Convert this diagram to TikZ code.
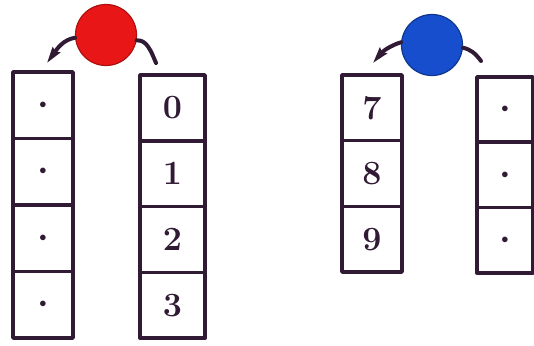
\documentclass[tikz,border=0pt]{standalone}
\usepackage{tikz}
\usetikzlibrary{arrows.meta,positioning}

\definecolor{ink}{RGB}{48,26,52}
\definecolor{ballred}{RGB}{232,22,22}
\definecolor{ballblue}{RGB}{22,78,205}

\begin{document}
\begin{tikzpicture}[
    x=1pt, y=-1pt, line join=round,
    cell/.style ={draw=ink, line width=3.6pt, outer sep=0pt, inner sep=0pt,
                  font=\fontsize{34}{34}\selectfont\bfseries, text=ink},
    cola/.style ={cell, minimum width=60pt, minimum height=66.5pt},
    colb/.style ={cell, minimum width=65pt, minimum height=65.8pt},
    colc/.style ={cell, minimum width=60pt, minimum height=65.7pt},
    cold/.style ={cell, minimum width=56pt, minimum height=65.3pt},
    ball/.style ={circle, minimum size=61pt, inner sep=0pt, line width=1.2pt},
    arm/.style  ={draw=ink, line width=4pt, line cap=round},
    hand/.style ={-{Stealth[length=16pt, width=9pt, inset=2pt]}},
  ]
  \useasboundingbox (0,0) rectangle (534,345);

  % --- left pair ---
  \node[cola] (a1) at (43,105.25) {\fontsize{15}{15}\selectfont$\bullet$};
  \node[cola, below=0pt of a1] (a2) {\fontsize{15}{15}\selectfont$\bullet$};
  \node[cola, below=0pt of a2] (a3) {\fontsize{15}{15}\selectfont$\bullet$};
  \node[cola, below=0pt of a3] (a4) {\fontsize{15}{15}\selectfont$\bullet$};
  \node[colb] (b0) at (172.5,107.9) {0};
  \node[colb, below=0pt of b0] (b1) {1};
  \node[colb, below=0pt of b1] (b2) {2};
  \node[colb, below=0pt of b2] (b3) {3};

  \node[ball, fill=ballred, draw=ballred!75!black] (red) at (106,35) {};
  \coordinate (redL) at (47,63);
  \coordinate (redR) at (156,63);
  \draw[arm, hand] (red.185) .. controls +(-12,2) and +(10,-14) .. (redL);
  \draw[arm] (red.-10) .. controls +(10,-1) and +(-5,-12) .. (redR);

  % --- right pair ---
  \node[colc] (c7) at (372,107.8) {7};
  \node[colc, below=0pt of c7] (c8) {8};
  \node[colc, below=0pt of c8] (c9) {9};
  \node[cold] (d1) at (505,109.6) {\fontsize{15}{15}\selectfont$\bullet$};
  \node[cold, below=0pt of d1] (d2) {\fontsize{15}{15}\selectfont$\bullet$};
  \node[cold, below=0pt of d2] (d3) {\fontsize{15}{15}\selectfont$\bullet$};

  \node[ball, fill=ballblue, draw=ballblue!70!black] (blue) at (432,45) {};
  \coordinate (blueL) at (373,63);
  \coordinate (blueR) at (481,61);
  \draw[arm, hand] (blue.175) .. controls +(-10,3) and +(10,-12) .. (blueL);
  \draw[arm] (blue.-5) .. controls +(8,2) and +(-6,-8) .. (blueR);
\end{tikzpicture}
\end{document}
